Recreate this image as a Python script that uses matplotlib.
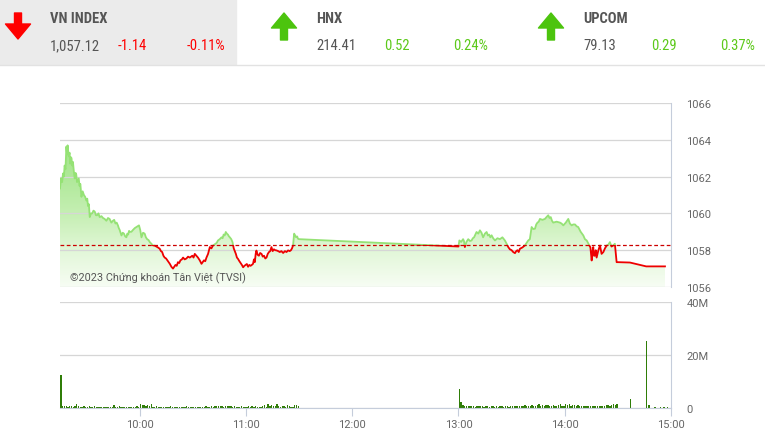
import matplotlib
matplotlib.use("Agg")
import matplotlib.pyplot as plt
import numpy as np
from matplotlib.colors import LinearSegmentedColormap
from matplotlib.patches import Rectangle, FancyArrow

plt.rcParams['font.family'] = ['Roboto', 'DejaVu Sans']
head_font = ['Roboto Condensed', 'Roboto', 'DejaVu Sans']

# header values
indices = ["VN INDEX", "HNX", "UPCOM"]
idx_values = ["1,057.12", "214.41", "79.13"]
idx_changes = ["-1.14", "0.52", "0.29"]
idx_pcts = ["-0.11%", "0.24%", "0.37%"]
idx_up = [False, True, True]

ref_price = 1058.26

# intraday VN-Index, minutes after 9:00
price_t = [15, 15.6, 16.2, 16.7, 17.2, 17.6, 18.1, 18.6, 19.0, 19.3, 19.7, 20.0, 20.4, 20.8,
           21.2, 21.5, 21.9, 22.3, 22.8, 23.3, 23.8, 24.2, 24.6, 25.1, 25.6, 26.0,
           26.5, 27.1, 27.8, 28.5, 29.2, 29.9, 30.4, 30.8, 31.3, 31.8, 32.5, 33.2,
           33.9, 34.6, 35.3, 36.0, 36.7, 37.4, 38.4, 39.3, 40.2, 41.2, 42.1, 43.0,
           44.0, 44.9, 45.6, 46.3, 47.0, 47.7, 48.2, 48.7, 49.2, 49.7, 50.4, 51.1,
           51.8, 52.5, 53.0, 53.5, 54.0, 54.4, 55.3, 56.2, 57.2, 58.1, 58.8, 59.6,
           60.3, 61.0, 61.9, 62.8, 63.5, 64.2, 65.0, 65.7, 66.6, 67.5, 68.5, 69.4,
           70.3, 71.3, 72.0, 72.7, 73.4, 74.1, 74.9, 75.6, 76.3, 77.0, 77.9, 78.8,
           79.5, 80.2, 80.9, 81.6, 82.3, 83.0, 83.8, 84.5, 85.4, 86.4, 87.3, 88.3,
           89.0, 89.7, 90.4, 91.1, 92.0, 92.9, 93.9, 94.9, 95.6, 96.3, 97.0, 97.7,
           98.6, 99.6, 100.5, 101.4, 102.1, 102.8, 103.5, 104.2, 105.2, 106.2, 106.8,
           107.4, 108.0, 108.6, 109.2, 109.8, 110.4, 110.9, 111.7, 112.4, 113.1, 113.7,
           114.3, 114.9, 115.5, 116.3, 117.0, 117.7, 118.4, 119.1, 119.8, 120.5,
           121.2, 121.9, 122.6, 123.3, 124.0, 124.5, 125.0, 125.5, 125.9, 126.6,
           127.3, 128.0, 128.8, 129.5, 130.2, 130.9, 131.6, 132.3, 133.0, 133.7,
           134.4, 135.1, 135.8, 136.5, 137.2, 138.2, 139.1, 140.0, 141.0, 142.0,
           142.9, 143.8, 144.7, 145.4, 146.0, 146.6, 147.2, 147.8, 148.3, 148.9,
           149.4, 150,
           240, 240.5, 241.5, 242.6, 243.1, 243.6, 244.5, 245.5, 246.5, 247.4, 248.1,
           248.8, 249.5, 250.2, 251.2, 252.1, 253.0, 253.9, 254.9, 255.9, 256.6, 257.3,
           258.0, 258.7, 259.6, 260.6, 262.0, 263.4, 264.8, 266.2, 267.2, 268.1, 269.0,
           270.0, 270.9, 271.9, 272.6, 273.3, 274.0, 274.7, 276.1, 277.5, 278.5, 279.4,
           280.3, 281.3, 282.2, 283.2, 283.9, 284.6, 285.3, 286.0, 287.4, 288.8, 289.7,
           290.7, 291.4, 292.1, 292.8, 293.5, 295.4, 297.3, 298.2, 299.2, 300.6, 302.0,
           302.9, 303.9, 304.8, 305.8, 306.7, 307.6, 309.0, 310.5, 311.4, 312.4, 313.1,
           313.9, 314.5, 315.2, 315.6, 316.1, 316.5, 317.0, 317.5, 318.0, 319.0, 319.9,
           320.8, 321.8, 322.7, 323.7, 324.6, 325.5, 326.4, 327.4, 328.3, 329.3, 330.0,
           336.8, 344.4, 346.0, 356.6]
price_v = [1061.36, 1061.9, 1061.7, 1062.17, 1062.0, 1062.6, 1062.4, 1063.63, 1063.2, 1063.7,
           1063.3, 1063.1, 1063.3, 1062.7, 1063.05, 1063.0, 1062.6, 1062.8, 1062.3,
           1061.9, 1062.2, 1062.1, 1061.7, 1061.8, 1061.9, 1061.5, 1061.6, 1060.9,
           1061.2, 1061.0, 1060.9, 1060.7, 1060.8, 1060.4, 1060.5, 1059.8, 1060.0,
           1060.0, 1060.15, 1060.1, 1059.9, 1059.9, 1060.0, 1059.8, 1059.85, 1059.75,
           1059.7, 1059.6, 1059.75, 1059.7, 1059.5, 1059.6, 1059.65, 1059.45, 1059.5,
           1059.35, 1059.2, 1059.1, 1058.95, 1058.8, 1058.95, 1058.9, 1058.75, 1058.7,
           1058.9, 1058.85, 1059.05, 1059.0, 1059.0, 1059.1, 1059.2, 1059.26, 1059.3,
           1059.35, 1059.1, 1058.7, 1058.95, 1058.9, 1058.7, 1058.6, 1058.55, 1058.44,
           1058.35, 1058.26, 1058.25, 1058.2, 1058.15, 1058.08, 1057.95, 1057.9, 1057.7,
           1057.6, 1057.55, 1057.45, 1057.35, 1057.26, 1057.1, 1057.0, 1057.1, 1057.2,
           1057.15, 1057.35, 1057.3, 1057.45, 1057.5, 1057.6, 1057.5, 1057.55, 1057.65,
           1057.6, 1057.65, 1057.7, 1057.6, 1057.8, 1057.7, 1057.6, 1057.45, 1057.26,
           1057.35, 1057.45, 1057.4, 1057.6, 1057.8, 1058.17, 1058.1, 1058.26, 1058.3,
           1058.35, 1058.4, 1058.53, 1058.6, 1058.7, 1058.65, 1058.85, 1058.8, 1058.99,
           1058.9, 1058.85, 1058.75, 1058.7, 1058.6, 1058.44, 1058.1, 1057.95, 1057.8,
           1057.6, 1057.53, 1057.4, 1057.3, 1057.2, 1057.07, 1057.15, 1057.2, 1057.25,
           1057.1, 1057.2, 1057.15, 1057.2, 1057.26, 1057.5, 1057.35, 1057.8, 1057.98,
           1057.75, 1057.7, 1057.85, 1057.8, 1057.65, 1057.7, 1057.55, 1057.6, 1057.8,
           1057.9, 1057.95, 1058.17, 1057.95, 1058.05, 1058.0, 1057.99, 1057.95,
           1057.9, 1057.95, 1057.85, 1057.95, 1057.9, 1057.99, 1057.95, 1058.0, 1058.1,
           1058.26, 1058.9, 1058.8, 1058.7, 1058.75, 1058.62, 1058.6,
           1058.2, 1058.53, 1058.45, 1058.6, 1058.5, 1058.17, 1058.45, 1058.6, 1058.5,
           1058.53, 1058.65, 1058.7, 1058.85, 1058.99, 1058.9, 1059.08, 1058.95, 1058.7,
           1058.9, 1058.99, 1058.8, 1058.85, 1058.7, 1058.81, 1058.65, 1058.53, 1058.65,
           1058.6, 1058.7, 1058.53, 1058.35, 1058.17, 1058.05, 1058.0, 1057.9, 1057.84,
           1057.95, 1058.0, 1057.9, 1058.08, 1058.15, 1058.26, 1058.4, 1058.53, 1058.6,
           1059.26, 1059.15, 1059.17, 1059.4, 1059.5, 1059.55, 1059.7, 1059.65, 1059.7,
           1059.8, 1059.9, 1059.75, 1059.8, 1059.6, 1059.5, 1059.55, 1059.5, 1059.45,
           1059.35, 1059.5, 1059.7, 1059.45, 1059.35, 1059.4, 1059.4, 1059.3, 1059.26,
           1059.0, 1058.8, 1058.6, 1058.53, 1058.4, 1058.26, 1058.15, 1057.44, 1057.9,
           1058.17, 1057.7, 1057.7, 1058.0, 1057.6, 1058.0, 1058.26, 1057.8, 1057.9,
           1058.1, 1058.26, 1058.3, 1058.44, 1058.2, 1058.26, 1058.35, 1057.35, 1057.35,
           1057.33, 1057.16, 1057.12, 1057.12]

# volume per minute (millions)
vol_am = [12.5, 0.9, 0.6, 0.8, 0.5, 0.7, 0.6, 0.5, 0.9, 1.6, 0.6, 0.5, 0.4, 0.8, 0.5,
          0.4, 0.6, 0.3, 0.5, 0.9, 0.4, 0.3, 0.5, 0.4, 0.3, 0.4, 0.5, 0.3, 0.4, 0.3,
          1.0, 0.4, 0.3, 0.8, 0.3, 0.4, 0.3, 0.3, 0.4, 0.3, 0.4, 0.3, 0.5, 0.6, 0.4,
          1.5, 1.1, 1.3, 0.8, 1.2, 0.6, 1.4, 0.5, 0.4, 0.9, 0.3, 0.4, 0.3, 0.3, 0.4,
          0.3, 0.3, 0.7, 0.3, 0.4, 0.3, 0.3, 0.3, 0.5, 0.3, 0.3, 0.6, 0.3, 0.4, 0.3,
          0.3, 0.4, 0.3, 0.5, 0.3, 0.4, 0.3, 0.7, 0.3, 0.4, 0.6, 0.5, 0.9, 0.7, 0.8,
          0.6, 0.9, 0.5, 0.8, 0.7, 0.9, 0.6, 0.5, 0.8, 0.4, 0.5, 0.4, 0.7, 0.5, 0.4,
          0.5, 0.9, 0.4, 0.6, 0.5, 0.8, 0.4, 0.3, 0.5, 0.6, 1.2, 0.5, 1.4, 0.7, 1.3,
          0.8, 0.6, 1.6, 0.7, 0.5, 0.6, 0.8, 0.5, 1.2, 0.6, 0.5, 0.4, 1.3, 1.1, 0.9]
vol_pm = [7.2, 2.3, 1.0, 0.7, 0.8, 0.6, 0.7, 0.6, 0.6, 0.5, 0.6, 0.7, 0.6, 0.7, 0.5,
          0.6, 0.9, 0.5, 0.6, 0.7, 0.5, 0.9, 0.5, 0.6, 0.8, 0.5, 0.6, 0.7, 0.5, 0.6,
          0.8, 0.6, 0.9, 0.6, 0.7, 0.8, 0.6, 1.0, 0.7, 0.6, 0.9, 1.1, 0.8, 0.7, 1.2,
          1.6, 0.9, 1.3, 0.8, 1.2, 1.0, 0.7, 0.8, 1.1, 0.9, 0.8, 1.0, 1.5, 0.8, 0.7,
          1.6, 1.2, 1.4, 0.9, 1.0, 1.3, 0.8, 1.1, 0.7, 0.9, 0.8, 0.7, 0.8, 0.9, 0.7,
          0.8, 0.7, 0.9, 0.8, 0.7, 0.8, 0.9, 0.7, 1.1, 1.3, 0.9, 1.2, 1.5, 1.0, 1.6]
vol_late_t = [337, 346, 347.5, 351, 354, 356, 358]
vol_late_v = [3.5, 25.3, 1.0, 0.2, 0.2, 0.2, 0.2]

time_ticks = [60, 120, 180, 240, 300, 360]
time_labels = ["10:00", "11:00", "12:00", "13:00", "14:00", "15:00"]
price_ticks = [1056, 1058, 1060, 1062, 1064, 1066]
vol_ticks = [0, 20, 40]
vol_labels = ["0", "20M", "40M"]

W, H = 765, 439
fig = plt.figure(figsize=(W / 100, H / 100), dpi=100)

def frame(x0, y0, x1, y1):
    return [x0 / W, 1 - y1 / H, (x1 - x0) / W, (y1 - y0) / H]

grid_c = "#d6d6d6"
edge_c = "#c5cddb"
label_c = "#666666"

# header overlay in pixel coordinates
hd = fig.add_axes([0, 0, 1, 1])
hd.set_xlim(0, W)
hd.set_ylim(H, 0)
hd.axis("off")
hd.add_patch(Rectangle((0, 0), 236, 65, color="#ebebeb", zorder=0))
hd.plot([0, W], [65.5, 65.5], color="#e2e2e2", lw=1)

red = "#ff0000"
green = "#5cc91a"
cols = [50, 316, 583]
for i, name in enumerate(indices):
    x = cols[i]
    c = green if idx_up[i] else red
    ax_x = x - 32
    if idx_up[i]:
        hd.add_patch(FancyArrow(ax_x, 41, 0, -27, width=7, head_width=25, head_length=15,
                                length_includes_head=True, color="#4cc40e", lw=1,
                                joinstyle="round"))
    else:
        hd.add_patch(FancyArrow(ax_x, 14, 0, 26, width=7, head_width=25, head_length=15,
                                length_includes_head=True, color=red, lw=1,
                                joinstyle="round"))
    hd.text(x, 19, name, fontsize=10.5, fontweight="bold", color="#555555", va="center",
            family=head_font)
    hd.text(x, 46, idx_values[i], fontsize=10.5, color="#555555", va="center",
            family=head_font)
    hd.text(x + 68, 46, idx_changes[i], fontsize=10.5, color=c, va="center",
            family=head_font)
    hd.text(x + 137, 46, idx_pcts[i], fontsize=10.5, color=c, va="center",
            family=head_font)

# price panel
ax = fig.add_axes(frame(60, 104, 671, 288))
ax.set_xlim(15, 360)
ax.set_ylim(1056, 1066)
t = np.array(price_t)
v = np.array(price_v)

cmap = LinearSegmentedColormap.from_list(
    "g", ["#f7fdf4", "#e2f7d8", "#c6efb4", "#b0e99a", "#a2e489"])
grad = np.linspace(0, 1, 256).reshape(-1, 1)
im = ax.imshow(grad, extent=[15, 360, 1056, 1063.8], origin="lower", aspect="auto",
               cmap=cmap, zorder=1)
poly = ax.fill_between(t, v, 1056, facecolor="none", edgecolor="none")
im.set_clip_path(poly.get_paths()[0], transform=ax.transData)
ax.set_ylim(1056, 1066)

up_line, = ax.plot(t, v, color="#95e275", lw=1.3, zorder=3)
up_line.set_clip_path(Rectangle((15, ref_price), 345, 10, transform=ax.transData))
dn_line, = ax.plot(t, v, color="#ee0000", lw=1.3, zorder=3)
dn_line.set_clip_path(Rectangle((15, 1056), 345, ref_price - 1056, transform=ax.transData))
ax.axhline(ref_price, color="#cc0000", lw=0.9, ls=(0, (3, 2)), zorder=4)

ax.set_yticks(price_ticks)
ax.yaxis.tick_right()
ax.tick_params(axis="y", length=0, pad=11, labelsize=8, labelcolor=label_c)
ax.set_xticks([])
ax.grid(axis="y", color=grid_c, lw=0.9, zorder=0)
for s in ["left", "top", "bottom"]:
    ax.spines[s].set_visible(False)
ax.spines["right"].set_color(edge_c)
ax.text(0.016, 0.054, "©2023 Chứng khoán Tân Việt (TVSI)", transform=ax.transAxes,
        fontsize=7.8, color="#555555", va="center", zorder=5)

# volume panel
vx = fig.add_axes(frame(60, 303, 671, 409))
vx.set_xlim(15, 360)
vx.set_ylim(0, 40)
vol_c = "#2f7d08"
vx.bar(np.arange(len(vol_am)) + 15.5, vol_am, width=0.75, color=vol_c, zorder=2)
vx.bar(np.arange(len(vol_pm)) + 240.5, vol_pm, width=0.75, color=vol_c, zorder=2)
vx.bar(vol_late_t, vol_late_v, width=0.75, color=vol_c, zorder=2)
vx.set_yticks(vol_ticks)
vx.set_yticklabels(vol_labels)
vx.yaxis.tick_right()
vx.tick_params(axis="y", length=0, pad=11, labelsize=8, labelcolor=label_c)
vx.set_xticks(time_ticks)
vx.set_xticklabels(time_labels)
vx.tick_params(axis="x", length=6, color=edge_c, labelsize=8, labelcolor=label_c, pad=2)
vx.grid(axis="y", color=grid_c, lw=0.9, zorder=0)
vx.spines["left"].set_visible(False)
vx.spines["top"].set_visible(False)
vx.spines["right"].set_color(edge_c)
vx.spines["bottom"].set_color(edge_c)

fig.savefig("out.png", dpi=100)
